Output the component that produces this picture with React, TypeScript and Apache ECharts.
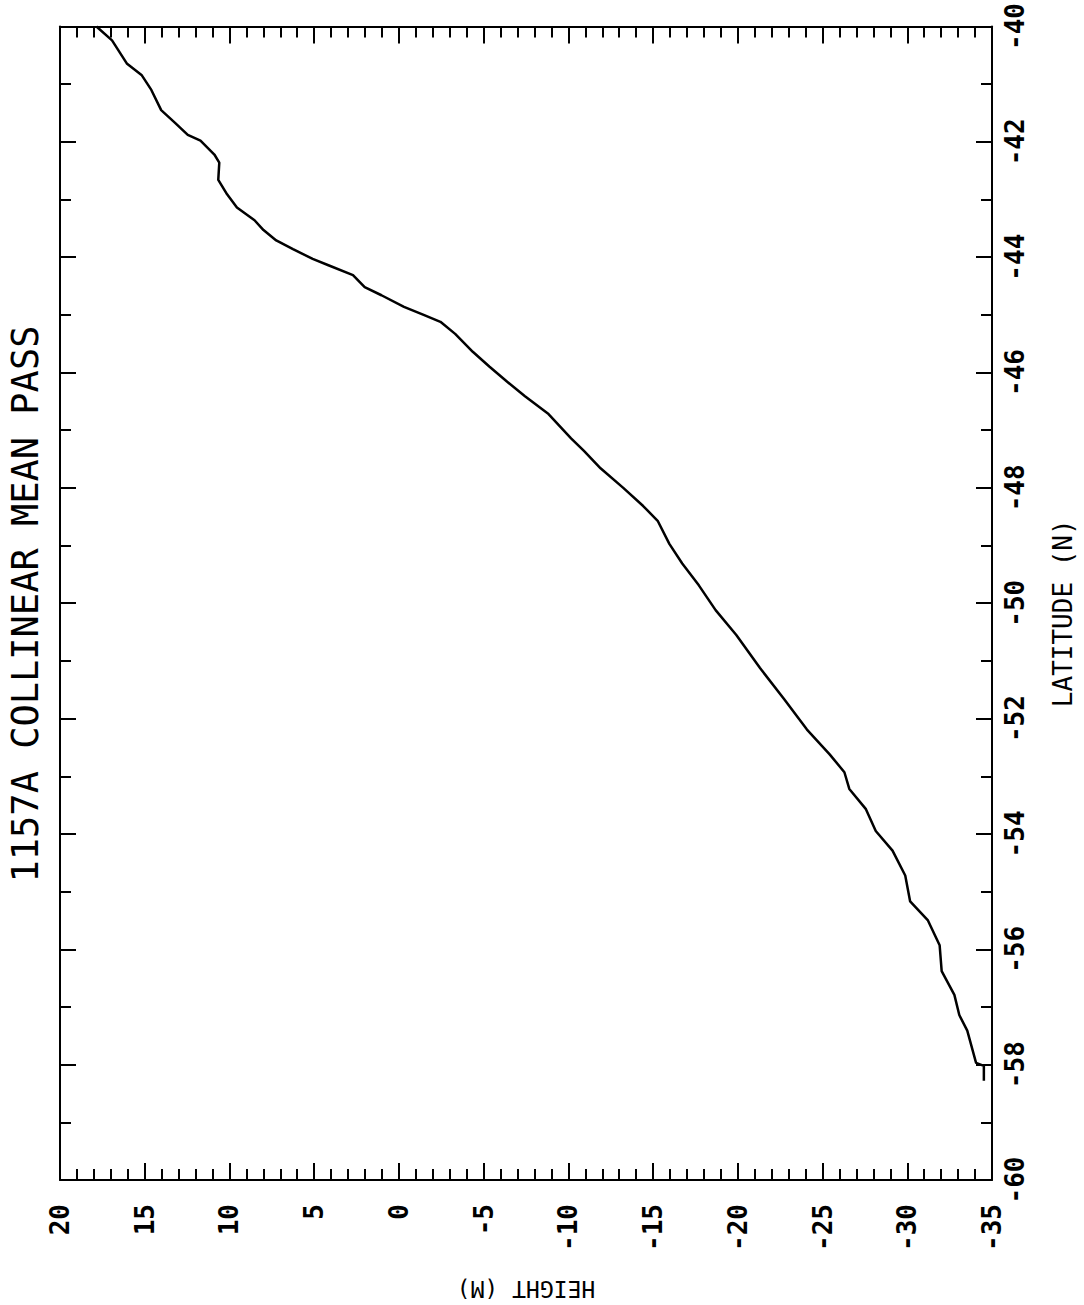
import React, { useEffect, useRef } from "react";
import * as echarts from "echarts";

const TITLE = "1157A COLLINEAR MEAN PASS";
const X_NAME = "HEIGHT (M)";
const Y_NAME = "LATITUDE (N)";

const latitude = [
  -40.0, -40.24, -40.64, -40.84, -41.1, -41.45, -41.67, -41.88, -41.98, -42.22,
  -42.36, -42.66, -42.91, -43.14, -43.36, -43.53, -43.71, -43.86, -44.03, -44.14,
  -44.31, -44.52, -44.66, -44.86, -45.0, -45.12, -45.33, -45.64, -45.9, -46.16,
  -46.41, -46.72, -47.14, -47.36, -47.66, -48.0, -48.31, -48.57, -48.97, -49.31,
  -49.69, -50.12, -50.55, -51.12, -51.67, -52.19, -52.62, -52.93, -53.22, -53.57,
  -53.95, -54.29, -54.72, -55.17, -55.5, -55.93, -56.38, -56.79, -57.14, -57.41,
  -57.97, -58.02, -58.28,
];

const height = [
  17.85, 16.93, 16.06, 15.19, 14.61, 14.03, 13.21, 12.46, 11.71, 10.89,
  10.6, 10.66, 10.14, 9.56, 8.52, 7.99, 7.24, 6.25, 5.09, 4.16,
  2.71, 2.02, 1.03, -0.3, -1.46, -2.45, -3.32, -4.36, -5.35, -6.39,
  -7.44, -8.83, -10.16, -10.92, -11.9, -13.24, -14.4, -15.27, -15.96, -16.72,
  -17.7, -18.69, -19.91, -21.3, -22.75, -24.08, -25.42, -26.29, -26.58, -27.56,
  -28.14, -29.13, -29.88, -30.17, -31.22, -31.91, -32.03, -32.78, -33.07, -33.54,
  -34.06, -34.52, -34.52,
];

const HEIGHT_MIN = -35;
const HEIGHT_MAX = 20;
const HEIGHT_STEP = 5;
const LAT_MIN = -60;
const LAT_MAX = -40;
const LAT_STEP = 2;

const MONO = "'DejaVu Sans Mono', 'Liberation Mono', monospace";

export default function App() {
  const ref = useRef<HTMLDivElement>(null);

  useEffect(() => {
    if (!ref.current) return;
    const chart = echarts.init(ref.current, null, { renderer: "svg" });
    const lineStyle = { color: "#000", width: 2 };

    const xCommon = {
      type: "value",
      min: HEIGHT_MIN,
      max: HEIGHT_MAX,
      interval: HEIGHT_STEP,
      inverse: true,
      axisLine: { show: true, onZero: false, lineStyle },
      axisTick: { show: true, inside: true, length: 17, lineStyle },
      minorTick: { show: true, splitNumber: 5, length: 11, lineStyle },
      splitLine: { show: false },
      minorSplitLine: { show: false },
    };
    const yCommon = {
      type: "value",
      min: LAT_MIN,
      max: LAT_MAX,
      interval: LAT_STEP,
      axisLine: { show: true, onZero: false, lineStyle },
      axisTick: { show: true, inside: true, length: 16, lineStyle },
      minorTick: { show: true, splitNumber: 2, length: 11, lineStyle },
      splitLine: { show: false },
      minorSplitLine: { show: false },
    };

    chart.setOption({
      animation: false,
      backgroundColor: "#fff",
      grid: { left: 60, top: 23, right: 76, bottom: 122, containLabel: false },
      xAxis: [
        {
          ...xCommon,
          position: "bottom",
          name: X_NAME,
          nameLocation: "middle",
          nameGap: 97,
          nameRotate: 180,
          nameTextStyle: { fontFamily: MONO, fontSize: 23, color: "#000" },
          axisLabel: {
            rotate: 90,
            margin: 24,
            fontFamily: MONO,
            fontWeight: "bold",
            fontSize: 26,
            color: "#000",
          },
        },
        {
          ...xCommon,
          position: "top",
          axisLabel: { show: false },
        },
      ],
      yAxis: [
        {
          ...yCommon,
          position: "right",
          name: Y_NAME,
          nameLocation: "middle",
          nameGap: 58,
          nameRotate: 90,
          nameTextStyle: {
            fontFamily: MONO,
            fontSize: 26,
            color: "#000",
            padding: [0, 20, 0, 0],
          },
          axisLabel: {
            rotate: 90,
            margin: 10,
            fontFamily: MONO,
            fontWeight: "bold",
            fontSize: 26,
            color: "#000",
          },
        },
        {
          ...yCommon,
          position: "left",
          axisLabel: { show: false },
        },
      ],
      graphic: [
        {
          type: "text",
          x: 25,
          y: 604,
          rotation: Math.PI / 2,
          style: {
            text: TITLE,
            fontFamily: MONO,
            fontSize: 37,
            fill: "#000",
            textAlign: "center",
            textVerticalAlign: "middle",
          },
        },
      ],
      series: [
        {
          type: "line",
          xAxisIndex: 0,
          yAxisIndex: 0,
          data: latitude.map((lat, i) => [height[i], lat]),
          showSymbol: false,
          symbol: "none",
          lineStyle: { color: "#000", width: 2.5 },
          silent: true,
        },
      ],
    });

    return () => chart.dispose();
  }, []);

  return (
    <div
      ref={ref}
      style={{ position: "absolute", left: 0, top: 0, width: 1084, height: 1305, background: "#fff" }}
    />
  );
}
